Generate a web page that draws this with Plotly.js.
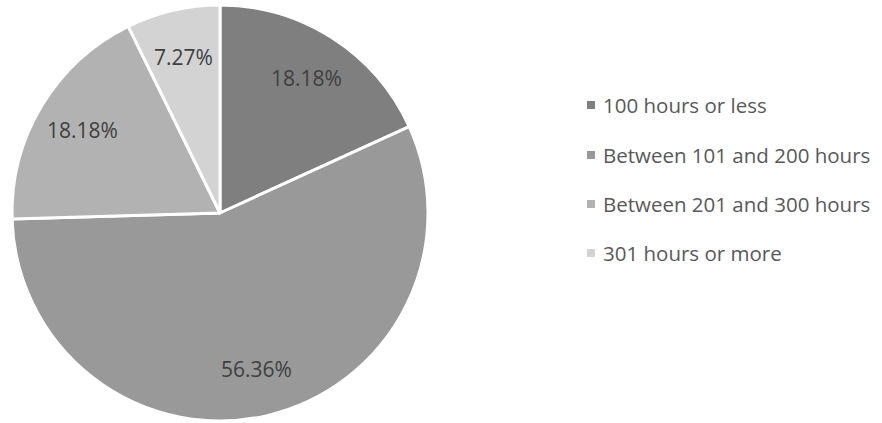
<!DOCTYPE html>
<html><head><meta charset="utf-8">
<script src="https://cdn.plot.ly/plotly-3.0.1.min.js"></script>
<style>html,body{margin:0;padding:0;background:#fff}#chart{width:882px;height:423px}</style>
</head><body><div id="chart"></div>
<script>
const categories = ["100 hours or less", "Between 101 and 200 hours", "Between 201 and 300 hours", "301 hours or more"];
const counts = [10, 31, 10, 4];
const percentLabels = ["18.18%", "56.36%", "18.18%", "7.27%"];
const colors = ["#7f7f7f", "#999999", "#b2b2b2", "#d3d3d3"];

const W = 882, H = 423;
const cx = 220, cy = 213, R = 208;

const trace = {
  type: "pie",
  labels: categories,
  values: counts,
  textinfo: "none",
  sort: false,
  direction: "clockwise",
  rotation: 0,
  marker: {colors: colors, line: {color: "#ffffff", width: 3}},
  domain: {x: [(cx - R) / W, (cx + R) / W], y: [(H - cy - R) / H, (H - cy + R) / H]},
  showlegend: false,
  hoverinfo: "none"
};

const shapes = [], annotations = [];
// data labels placed at each slice's mid-angle, derived from the values
const total = counts.reduce((a, b) => a + b, 0);
let cum = 0;
counts.forEach((v, i) => {
  const mid = (cum + v / 2) / total * 2 * Math.PI;
  cum += v;
  const r = 0.77 * R;
  const px = cx + r * Math.sin(mid), py = cy - r * Math.cos(mid);
  annotations.push({xref: "paper", yref: "paper", x: px / W, y: 1 - py / H,
    xanchor: "center", yanchor: "middle", showarrow: false, text: percentLabels[i],
    font: {family: "Open Sans", size: 21, color: "#404040"}});
});

const rowY = [105, 155, 204, 253];
categories.forEach((c, i) => {
  shapes.push({type: "rect", xref: "paper", yref: "paper",
    x0: 587 / W, x1: 595 / W, y0: 1 - (rowY[i] + 4) / H, y1: 1 - (rowY[i] - 4) / H,
    fillcolor: colors[i], line: {width: 0}});
  annotations.push({xref: "paper", yref: "paper", x: 601 / W, y: 1 - rowY[i] / H,
    xanchor: "left", yanchor: "middle", showarrow: false, text: c,
    font: {family: "Open Sans", size: 20.5, color: "#595959"}});
});

Plotly.newPlot("chart", [trace], {
  width: W, height: H, margin: {l: 0, r: 0, t: 0, b: 0},
  paper_bgcolor: "#ffffff", shapes: shapes, annotations: annotations
}, {staticPlot: true});
</script></body></html>
